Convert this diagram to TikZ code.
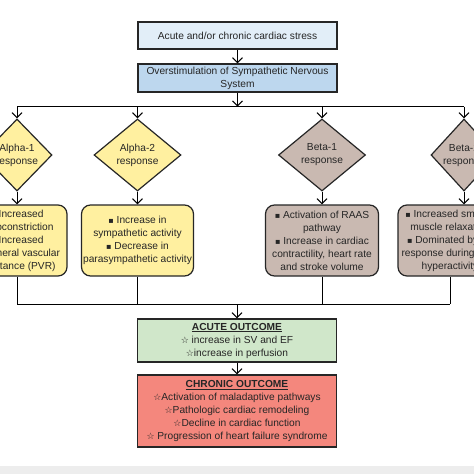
\documentclass[tikz,border=0pt]{standalone}
\usepackage{fontspec}
\setmainfont{Liberation Sans}
\newfontfamily\symfont{DejaVu Sans}
\usetikzlibrary{shapes.geometric,arrows.meta}
\definecolor{stressblue}{HTML}{E2EEF8}
\definecolor{snsblue}{HTML}{BDD7EE}
\definecolor{alphayel}{HTML}{FFF0A0}
\definecolor{betagray}{HTML}{C9B9B1}
\definecolor{acutegreen}{HTML}{D0E7CA}
\definecolor{chronred}{HTML}{F4877D}
\newcommand{\sq}{{\symfont\footnotesize ▪}\ }
\newcommand{\st}{{\symfont\small ☆}}
\tikzset{
  arr/.style={-{Straight Barb[length=5pt,width=10pt]},line width=1pt},
  flowbox/.style={draw=black!85,line width=1.2pt,align=center,inner sep=1pt,minimum width=199pt},
  resp/.style={diamond,draw=black!85,line width=1.2pt,align=center,inner sep=0pt,minimum width=87pt,minimum height=72pt},
  effect/.style={rectangle,rounded corners=9pt,draw=black!85,line width=1.2pt,align=center,minimum width=112pt,minimum height=71pt,inner sep=1pt},
}
\begin{document}
\begin{tikzpicture}[x=1pt,y=-1pt,font=\fontsize{10.2}{13}\selectfont,text=black!85]
\useasboundingbox (0,0) rectangle (474,474);
\clip (0,0) rectangle (474,474);
\fill[white] (0,0) rectangle (474,474);
\fill[black!7] (0,466) rectangle (474,474);
% top of the chain
\node[flowbox,fill=stressblue,minimum height=27pt] (stress) at (237.5,35.5) {Acute and/or chronic cardiac stress};
\node[flowbox,fill=snsblue,minimum height=28pt] (sns) at (237.5,78) {Overstimulation of Sympathetic Nervous\\System};
% receptor responses
\node[resp,fill=alphayel,minimum width=70pt] (a1) at (17,155) {Alpha-1\\response};
\node[resp,fill=alphayel] (a2) at (137.5,155) {Alpha-2\\response};
\node[resp,fill=betagray] (b1) at (322,155) {Beta-1\\response};
\node[resp,fill=betagray,minimum width=66pt] (b2) at (464,155) {Beta-2\\response};
\node[effect,fill=alphayel,minimum width=100pt] (ea1) at (17,240.5) {\sq Increased\\vasoconstriction\\\sq Increased\\peripheral vascular\\resistance (PVR)};
\node[effect,fill=alphayel] (ea2) at (137.5,240.5) {\sq Increase in\\sympathetic activity\\\sq Decrease in\\parasympathetic activity};
\node[effect,fill=betagray,minimum width=113pt] (eb1) at (322,240.5) {\sq Activation of RAAS\\pathway\\\sq Increase in cardiac\\contractility, heart rate\\and stroke volume};
\node[effect,fill=betagray,minimum width=104pt] (eb2) at (450,240.5) {\sq Increased smooth\\muscle relaxation\\\sq Dominated by $\beta$1\\response during SNS\\hyperactivity};
% outcomes
\node[flowbox,fill=acutegreen,minimum height=43pt] (acute) at (237,340.5) {\underline{\textbf{ACUTE OUTCOME}}\\\st\ increase in SV and EF\\\st increase in perfusion};
\node[flowbox,fill=chronred,minimum height=72pt] (chronic) at (237,411) {\underline{\textbf{CHRONIC OUTCOME}}\\\st Activation of maladaptive pathways\\\st Pathologic cardiac remodeling\\\st Decline in cardiac function\\\st\ Progression of heart failure syndrome};
\path (sns.south) ++(0,14) coordinate (split);
\coordinate (join) at (0,304);
\draw[arr] (stress) -- (sns);
\draw[arr] (sns) -- (split);
\draw[line width=1pt] (split -| a1) -- (split -| b2);
\foreach \d in {a1,a2,b1,b2} \draw[arr] (split -| \d) -- (\d);
\foreach \d in {a1,a2,b1} \draw[arr] (\d) -- (e\d);
\draw[arr] (b2) -- (b2 |- eb2.north);
\foreach \d in {a1,a2,b1,b2} \draw[line width=1pt] (e\d) -- (e\d |- join);
\draw[line width=1pt] (join -| ea1) -- (join -| eb2);
\draw[arr] (join -| acute) -- (acute);
\draw[arr] (acute) -- (chronic);
\end{tikzpicture}
\end{document}
